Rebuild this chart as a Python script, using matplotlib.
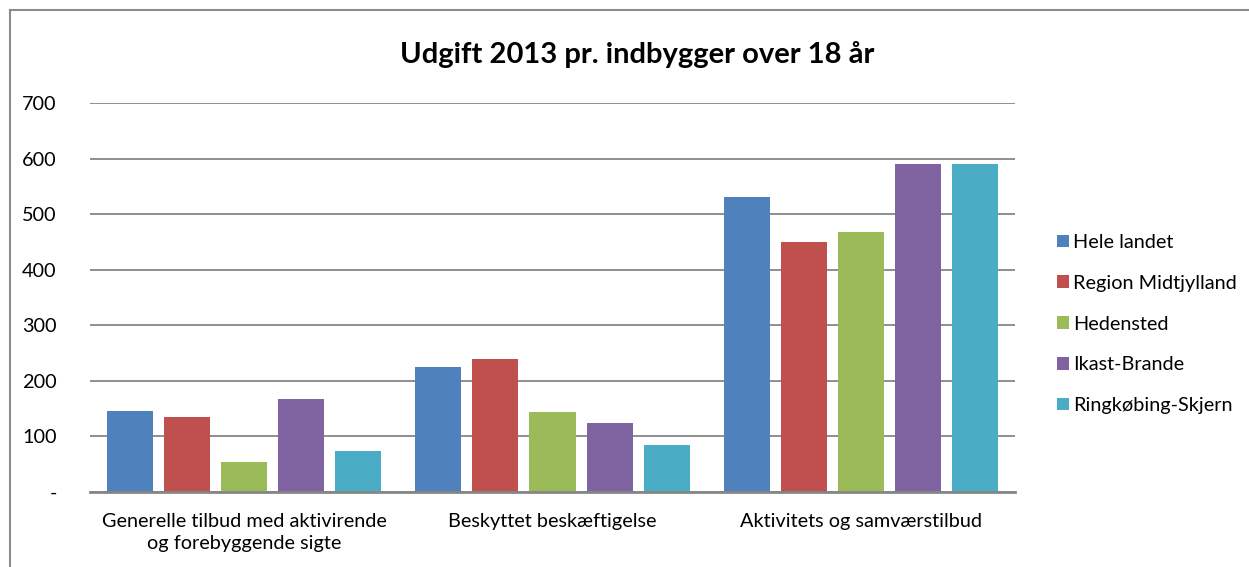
import matplotlib
matplotlib.use('Agg')
import matplotlib.pyplot as plt
import numpy as np
from matplotlib.patches import Patch
from matplotlib.lines import Line2D

plt.rcParams['font.family'] = ['Lato', 'DejaVu Sans']

categories = ["Generelle tilbud med aktivirende\nog forebyggende sigte",
              "Beskyttet beskæftigelse",
              "Aktivitets og samværstilbud"]
series = ["Hele landet", "Region Midtjylland", "Hedensted", "Ikast-Brande", "Ringkøbing-Skjern"]
values = {
    "Hele landet": [146, 225, 531],
    "Region Midtjylland": [135, 239, 450],
    "Hedensted": [54, 144, 468],
    "Ikast-Brande": [167, 124, 590],
    "Ringkøbing-Skjern": [74, 85, 590],
}
colors = ["#4F81BD", "#C0504D", "#9BBB59", "#8064A2", "#4BACC6"]
yticks = [0, 100, 200, 300, 400, 500, 600, 700]
ytick_labels = ["-", "100", "200", "300", "400", "500", "600", "700"]

W, H = 1249, 567
fig = plt.figure(figsize=(W / 100, H / 100), dpi=100)
ax = fig.add_axes([90 / W, 1 - 492 / H, (1015 - 90) / W, (492 - 103) / H])

x = np.arange(len(categories))
slot = 57 / 308
bw = 46 / 308
for i, s in enumerate(series):
    ax.bar(x + (i - 2) * slot, values[s], width=bw, color=colors[i], zorder=3)

ax.set_xlim(-0.5, 2.5)
ax.set_ylim(0, 700)
ax.set_yticks(yticks)
ax.set_yticklabels(ytick_labels)
ax.set_xticks(x)
ax.set_xticklabels(categories, linespacing=1.4)
ax.tick_params(axis='both', length=0, labelsize=14.3)
ax.tick_params(axis='y', pad=24)
ax.tick_params(axis='x', pad=15)
for lab in ax.get_yticklabels():
    lab.set_horizontalalignment('right')
ax.grid(axis='y', color='#868686', linewidth=1.3, zorder=0)
for sp in ['top', 'right', 'left']:
    ax.spines[sp].set_visible(False)
ax.spines['bottom'].set_color('#868686')
ax.spines['bottom'].set_linewidth(2)
ax.spines['bottom'].set_zorder(4)

fig.text(637 / W, 1 - 55 / H, "Udgift 2013 pr. indbygger over 18 år", ha='center', va='center',
         fontsize=21, fontweight='bold')

handles = [Patch(facecolor=c, edgecolor='none') for c in colors]
fig.legend(handles, series, loc='center left', bbox_to_anchor=(1057 / W, 1 - 324 / H),
           frameon=False, fontsize=14.3, handlelength=0.6, handleheight=0.6,
           handletextpad=0.2, labelspacing=1.2, borderpad=0, borderaxespad=0)

# chart area border (left and top edges visible)
fig.add_artist(Line2D([10 / W, 10 / W], [0, 1 - 10 / H], transform=fig.transFigure,
                      color='#8c8c8c', linewidth=1.5))
fig.add_artist(Line2D([10 / W, 1], [1 - 10 / H, 1 - 10 / H], transform=fig.transFigure,
                      color='#8c8c8c', linewidth=1.5))

fig.savefig("out.png", dpi=100)
